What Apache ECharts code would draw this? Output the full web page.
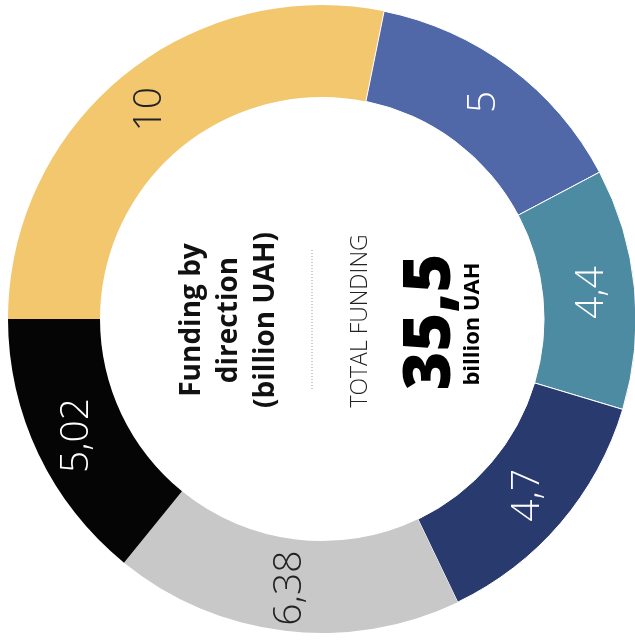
<!DOCTYPE html>
<html>
<head>
<meta charset="utf-8">
<script src="https://cdn.jsdelivr.net/npm/echarts@6/dist/echarts.min.js"></script>
<style>
html, body { margin: 0; padding: 0; background: #fff; }
#echart_donut { width: 635px; height: 642px; }
</style>
</head>
<body>
<div id="echart_donut"></div>
<script>
var names = ['Direction 1', 'Direction 2', 'Direction 3', 'Direction 4', 'Direction 5', 'Direction 6'];
var values = [10, 5, 4.4, 4.7, 6.38, 5.02];
var colors = ['#F2C76E', '#5068A8', '#4D8BA2', '#293A6E', '#C8C8C8', '#050505'];
var labelColors = ['#222', '#fff', '#fff', '#fff', '#222', '#fff'];
var borders = [0, 1, 1, 1, 0, 0];
var total = '35,5';

var fmt = function (v) { return String(v).replace('.', ','); };

var myChart_donut = echarts.init(document.getElementById('echart_donut'));
var option_donut = {
    animation: false,
    series: [{
        type: 'pie',
        center: [322, 319],
        radius: [222, 314],
        startAngle: 180,
        avoidLabelOverlap: false,
        label: {
            show: true,
            position: 'inside',
            rotate: 90,
            fontFamily: 'Open Sans',
            fontWeight: 300,
            fontSize: 39,
            formatter: function (p) { return fmt(p.value); }
        },
        labelLine: { show: false },
        emphasis: { disabled: true },
        data: values.map(function (v, i) {
            return {
                name: names[i],
                value: v,
                itemStyle: { color: colors[i], borderColor: '#fff', borderWidth: borders[i] },
                label: { color: labelColors[i] }
            };
        })
    }],
    graphic: [
        {
            type: 'text', x: 229, y: 320, rotation: Math.PI / 2,
            style: {
                text: 'Funding by\ndirection\n(billion UAH)',
                fill: '#111', font: 'bold 28px "Open Sans"', lineHeight: 37,
                textAlign: 'center', textVerticalAlign: 'middle', align: 'center', verticalAlign: 'middle'
            }
        },
        {
            type: 'line',
            shape: { x1: 312, y1: 250, x2: 312, y2: 390 },
            style: { stroke: '#999', lineWidth: 1, lineDash: [1, 2] }
        },
        {
            type: 'text', x: 360, y: 321, rotation: Math.PI / 2,
            style: {
                text: 'TOTAL FUNDING',
                fill: '#222', font: '300 23px "Open Sans"',
                textAlign: 'center', textVerticalAlign: 'middle', align: 'center', verticalAlign: 'middle'
            }
        },
        {
            type: 'text', x: 431, y: 322, rotation: Math.PI / 2,
            style: {
                text: total,
                fill: '#000', font: '800 66px "Open Sans"',
                textAlign: 'center', textVerticalAlign: 'middle', align: 'center', verticalAlign: 'middle'
            }
        },
        {
            type: 'text', x: 473, y: 324, rotation: Math.PI / 2,
            style: {
                text: 'billion UAH',
                fill: '#000', font: 'bold 22px "Open Sans"',
                textAlign: 'center', textVerticalAlign: 'middle', align: 'center', verticalAlign: 'middle'
            }
        }
    ]
};
myChart_donut.setOption(option_donut);
</script>
</body>
</html>
